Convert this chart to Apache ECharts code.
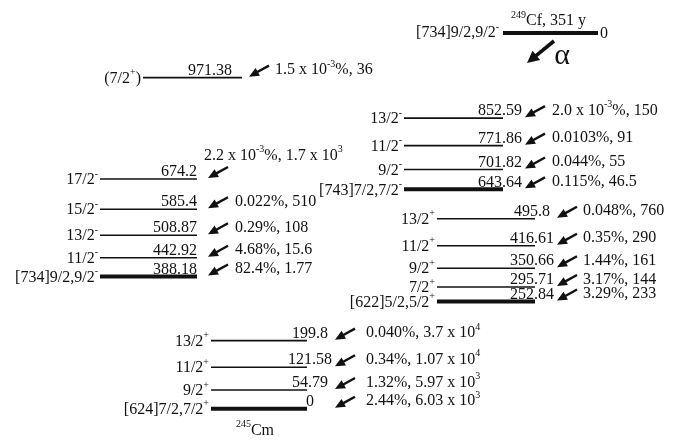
<!DOCTYPE html>
<html>
<head>
<meta charset="utf-8">
<script src="https://cdn.jsdelivr.net/npm/echarts@6/dist/echarts.min.js"></script>
<style>
  html, body { margin: 0; padding: 0; background: #fff; }
  #chart { width: 691px; height: 440px; }
</style>
</head>
<body>
<div id="chart"></div>
<script>
// Level energies in keV, spin/parity labels and alpha-feeding labels (intensity, hindrance factor).
// "^x" marks a superscript.
const gsBandEnergy = [0, 54.79, 121.58, 199.8];
const gsBandSpin = ['[624]7/2,7/2^+', '9/2^+', '11/2^+', '13/2^+'];
const gsBandAlpha = ['2.44%, 6.03 x 10^3', '1.32%, 5.97 x 10^3', '0.34%, 1.07 x 10^4', '0.040%, 3.7 x 10^4'];

const band622Energy = [252.84, 295.71, 350.66, 416.61, 495.8];
const band622Spin = ['[622]5/2,5/2^+', '7/2^+', '9/2^+', '11/2^+', '13/2^+'];
const band622Alpha = ['3.29%, 233', '3.17%, 144', '1.44%, 161', '0.35%, 290', '0.048%, 760'];

const band734Energy = [388.18, 442.92, 508.87, 585.4, 674.2];
const band734Spin = ['[734]9/2,9/2^-', '11/2^-', '13/2^-', '15/2^-', '17/2^-'];
const band734Alpha = ['82.4%, 1.77', '4.68%, 15.6', '0.29%, 108', '0.022%, 510', '2.2 x 10^-3%, 1.7 x 10^3'];

const band743Energy = [643.64, 701.82, 771.86, 852.59];
const band743Spin = ['[743]7/2,7/2^-', '9/2^-', '11/2^-', '13/2^-'];
const band743Alpha = ['0.115%, 46.5', '0.044%, 55', '0.0103%, 91', '2.0 x 10^-3%, 150'];

const highLevelEnergy = [971.38];
const highLevelSpin = ['(7/2^+)'];
const highLevelAlpha = ['1.5 x 10^-3%, 36'];

const parentEnergy = [0];
const parentSpin = ['[734]9/2,9/2^-'];
const parentName = '^249Cf, 351 y';
const daughterName = '^245Cm';

// ---- drawing ----
const FAMILY = '"Liberation Serif", "Times New Roman", serif';
const INK = '#111';
const RICH = {
  sup: { fontSize: 10, fontFamily: FAMILY, fill: INK, verticalAlign: 'top', lineHeight: 10 }
};

function rich(s) {
  return s.replace(/\^([0-9+\-]+)/g, '{sup|$1}');
}

function label(text, x, y, align, extra) {
  return {
    type: 'text',
    style: Object.assign({
      text: rich(text), x: x, y: y,
      align: align, verticalAlign: 'middle',
      fontSize: 16, fontFamily: FAMILY, lineHeight: 22,
      fill: INK, rich: RICH
    }, extra || {})
  };
}

function arrow(hx, hy, dx, dy, width, headLen, headHalf) {
  const len = Math.sqrt(dx * dx + dy * dy);
  const ux = -dx / len, uy = -dy / len;          // unit vector towards the head
  const bx = hx - ux * headLen, by = hy - uy * headLen;
  const nx = -uy, ny = ux;
  return [
    { type: 'line', shape: { x1: hx + dx, y1: hy + dy, x2: bx + ux, y2: by + uy },
      style: { stroke: INK, lineWidth: width, lineCap: 'butt' } },
    { type: 'polygon', shape: { points: [[hx, hy], [bx + nx * headHalf, by + ny * headHalf], [bx - nx * headHalf, by - ny * headHalf]] },
      style: { fill: INK } }
  ];
}

// Column layout of each band (x in pixel units of the hidden x axis)
const layouts = {
  gs:   { x1: 211, x2: 307, eAlign: 'center', eX: 310, arrowX: 335, textGap: 31 },
  b622: { x1: 437, x2: 535, eAlign: 'center', eX: 532, arrowX: 557, textGap: 26 },
  b734: { x1: 100, x2: 197, eAlign: 'right',  eX: 197, arrowX: 208, textGap: 27,
          shift: { 4: [-31, -16] } },
  b743: { x1: 404, x2: 503, eAlign: 'center', eX: 500, arrowX: 525, textGap: 27 },
  high: { x1: 143, x2: 242, eAlign: 'right',  eX: 232, arrowX: 249, textGap: 26, thinHead: true }
};

function bandSeries(name, energies, spins, alphas, lay, axisIndex, withDaughter) {
  return {
    type: 'custom',
    name: name,
    coordinateSystem: 'cartesian2d',
    xAxisIndex: axisIndex,
    yAxisIndex: axisIndex,
    clip: false,
    silent: true,
    data: energies.map((e, i) => [lay.x1, e, i]),
    encode: { x: 0, y: 1 },
    renderItem: function (params, api) {
      const i = api.value(2);
      const e = api.value(1);
      const p1 = api.coord([lay.x1, e]);
      const p2 = api.coord([lay.x2, e]);
      const pe = api.coord([lay.eX, e]);
      const pa = api.coord([lay.arrowX, e]);
      const y = p1[1];
      const head = i === 0 && !lay.thinHead;
      const kids = [
        { type: 'line', shape: { x1: p1[0], y1: y, x2: p2[0], y2: y },
          style: { stroke: INK, lineWidth: head ? 4 : 1.6 } },
        label(spins[i], p1[0] - 2, y + 1, 'right'),
        label(String(energies[i]), pe[0], y - 7, lay.eAlign)
      ];
      const hx = pa[0], hy = y - 1;
      arrow(hx, hy, 20, -11, 2.4, 10, 4.5).forEach(k => kids.push(k));
      const sh = (lay.shift && lay.shift[i]) || [0, 0];
      kids.push(label(alphas[i], hx + lay.textGap + sh[0], y - 7.5 + sh[1], 'left'));
      if (withDaughter && i === 0) {
        kids.push(label(daughterName, p1[0] + 44, y + 22, 'center'));
      }
      return { type: 'group', children: kids };
    }
  };
}

const parentSeries = {
  type: 'custom',
  name: 'parent',
  coordinateSystem: 'cartesian2d',
  xAxisIndex: 2,
  yAxisIndex: 2,
  clip: false,
  silent: true,
  data: parentEnergy.map((e, i) => [503, e, i]),
  encode: { x: 0, y: 1 },
  renderItem: function (params, api) {
    const e = api.value(1);
    const p1 = api.coord([503, e]);
    const p2 = api.coord([598, e]);
    const y = p1[1];
    const kids = [
      { type: 'line', shape: { x1: p1[0], y1: y, x2: p2[0], y2: y },
        style: { stroke: INK, lineWidth: 4 } },
      label(parentSpin[0], p1[0] - 4, y, 'right'),
      label(String(parentEnergy[0]), p2[0] + 2, y + 1, 'left'),
      label(parentName, (p1[0] + p2[0]) / 2 - 2, y - 12, 'center')
    ];
    arrow(p1[0] + 24, y + 30, 27, -22, 3.6, 12, 6).forEach(k => kids.push(k));
    kids.push({ type: 'text', style: { text: 'α', x: p1[0] + 59, y: y + 23, align: 'center', verticalAlign: 'middle',
      fontSize: 30, fontFamily: FAMILY, fill: INK } });
    return { type: 'group', children: kids };
  }
};

const hiddenX = { type: 'value', min: 0, max: 691, show: false };
const chart = echarts.init(document.getElementById('chart'), null, { renderer: 'canvas' });
chart.setOption({
  animation: false,
  backgroundColor: '#fff',
  grid: [
    { left: 0, width: 691, top: 27, height: 409 },   // daughter levels
    { left: 0, width: 691, top: 6, height: 409 },    // [622] band, lifted clear of the ground band
    { left: 0, width: 691, top: 0, height: 66 }      // parent level
  ],
  xAxis: [
    Object.assign({ gridIndex: 0 }, hiddenX),
    Object.assign({ gridIndex: 1 }, hiddenX),
    Object.assign({ gridIndex: 2 }, hiddenX)
  ],
  yAxis: [
    { type: 'value', gridIndex: 0, min: -80, max: 1120, show: false },
    { type: 'value', gridIndex: 1, min: -80, max: 1120, show: false },
    { type: 'value', gridIndex: 2, min: -1, max: 1, show: false }
  ],
  series: [
    bandSeries('gs', gsBandEnergy, gsBandSpin, gsBandAlpha, layouts.gs, 0, true),
    bandSeries('734', band734Energy, band734Spin, band734Alpha, layouts.b734, 0, false),
    bandSeries('743', band743Energy, band743Spin, band743Alpha, layouts.b743, 0, false),
    bandSeries('high', highLevelEnergy, highLevelSpin, highLevelAlpha, layouts.high, 0, false),
    bandSeries('622', band622Energy, band622Spin, band622Alpha, layouts.b622, 1, false),
    parentSeries
  ]
});
</script>
</body>
</html>
